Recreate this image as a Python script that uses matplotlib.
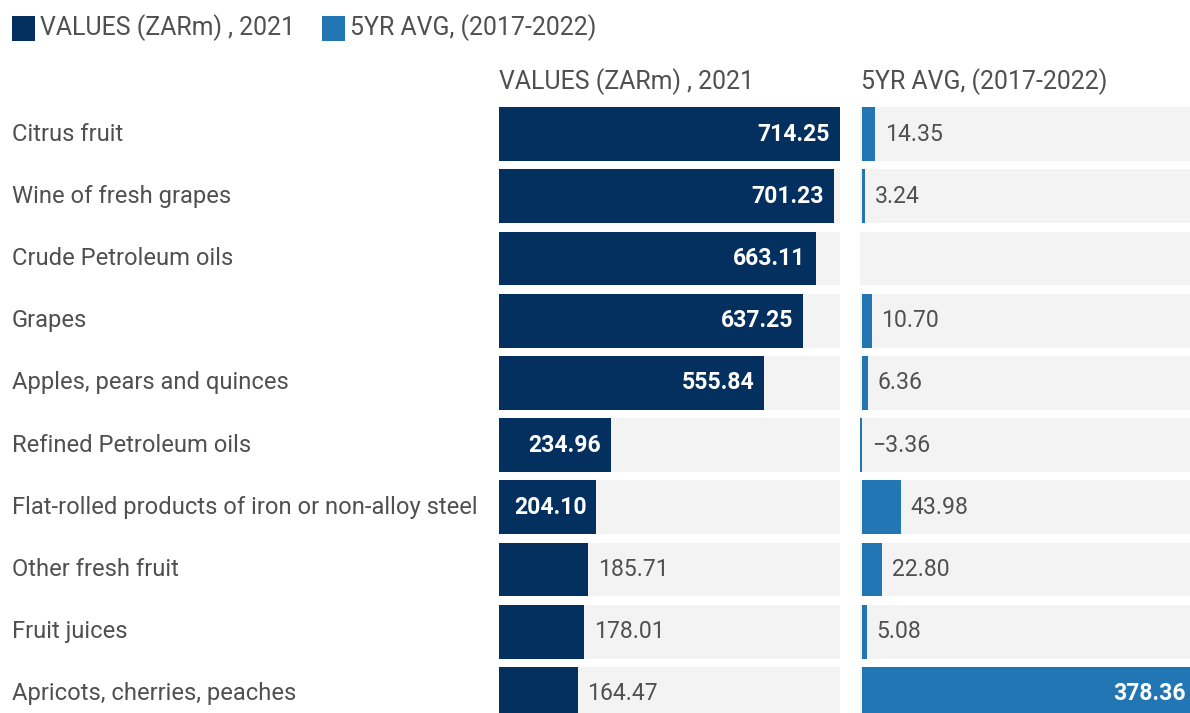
import matplotlib.pyplot as plt
from matplotlib.patches import Rectangle
from matplotlib.transforms import blended_transform_factory

plt.rcParams['font.family'] = ['Roboto', 'DejaVu Sans']

products = [
    'Citrus fruit',
    'Wine of fresh grapes',
    'Crude Petroleum oils',
    'Grapes',
    'Apples, pears and quinces',
    'Refined Petroleum oils',
    'Flat-rolled products of iron or non-alloy steel',
    'Other fresh fruit',
    'Fruit juices',
    'Apricots, cherries, peaches',
]
values_2021 = [714.25, 701.23, 663.11, 637.25, 555.84, 234.96, 204.10, 185.71, 178.01, 164.47]
avg_5yr = [14.35, 3.24, None, 10.70, 6.36, -3.36, 43.98, 22.80, 5.08, 378.36]

series_names = ['VALUES (ZARm) , 2021', '5YR AVG, (2017-2022)']
series_colors = ['#03305f', '#2176b3']

W, H = 1190, 713
BG = '#f3f3f3'
TEXT = '#505050'
FS_ROW = 17.1
FS_VAL = 16.6
FS_HEAD = 17.9
PAD = 7.2  # label gap from bar end, in points (~10 px)


def px_box(x0, x1, y_top, y_bot):
    # figure-pixel box -> add_axes rect
    return [x0 / W, (H - y_bot) / H, (x1 - x0) / W, (y_bot - y_top) / H]


def draw_panel(ax, vals, color, xmin, xmax):
    n = len(vals)
    ax.set_xlim(xmin, xmax)
    ax.set_ylim(n - 0.5, -0.5)
    ax.axis('off')
    h = 0.868
    for i, v in enumerate(vals):
        ax.add_patch(Rectangle((xmin, i - h / 2), xmax - xmin, h,
                               facecolor=BG, edgecolor='none', zorder=0))
        if v is None:
            continue
        ax.barh(i, v, height=h, color=color, zorder=1)
        label = f'{v:.2f}'.replace('-', '\u2212')
        if v / xmax > 0.27:
            ax.annotate(label, (v, i), xytext=(-PAD, 0), textcoords='offset points',
                        ha='right', va='center', color='white',
                        fontsize=FS_VAL, fontweight='bold')
        else:
            ax.annotate(label, (max(v, 0), i), xytext=(PAD, 0), textcoords='offset points',
                        ha='left', va='center', color=TEXT, fontsize=FS_VAL)


fig = plt.figure(figsize=(W / 100, H / 100), dpi=100)

ax_left = fig.add_axes(px_box(499, 840, 103, 725))
draw_panel(ax_left, values_2021, series_colors[0], 0, max(values_2021))

ax_right = fig.add_axes(px_box(860, 1196, 103, 725))
draw_panel(ax_right, avg_5yr, series_colors[1], -2.4, 378.36)

# row labels
trans = blended_transform_factory(fig.transFigure, ax_left.transData)
for i, name in enumerate(products):
    ax_left.text(12 / W, i, name, transform=trans, ha='left', va='center',
                 color=TEXT, fontsize=FS_ROW)

# column headers
fig.text(499 / W, 1 - 82 / H, series_names[0], ha='left', va='center',
         color=TEXT, fontsize=FS_HEAD)
fig.text(861 / W, 1 - 82 / H, series_names[1], ha='left', va='center',
         color=TEXT, fontsize=FS_HEAD)

# legend
for x0, name, color in zip([12, 322], series_names, series_colors):
    fig.patches.append(Rectangle((x0 / W, 1 - 41 / H), 23 / W, 25 / H,
                                 transform=fig.transFigure, facecolor=color,
                                 edgecolor='none'))
    fig.text((x0 + 28) / W, 1 - 28 / H, name, ha='left', va='center',
             color=TEXT, fontsize=FS_HEAD)

fig.savefig('out.png', dpi=100)
